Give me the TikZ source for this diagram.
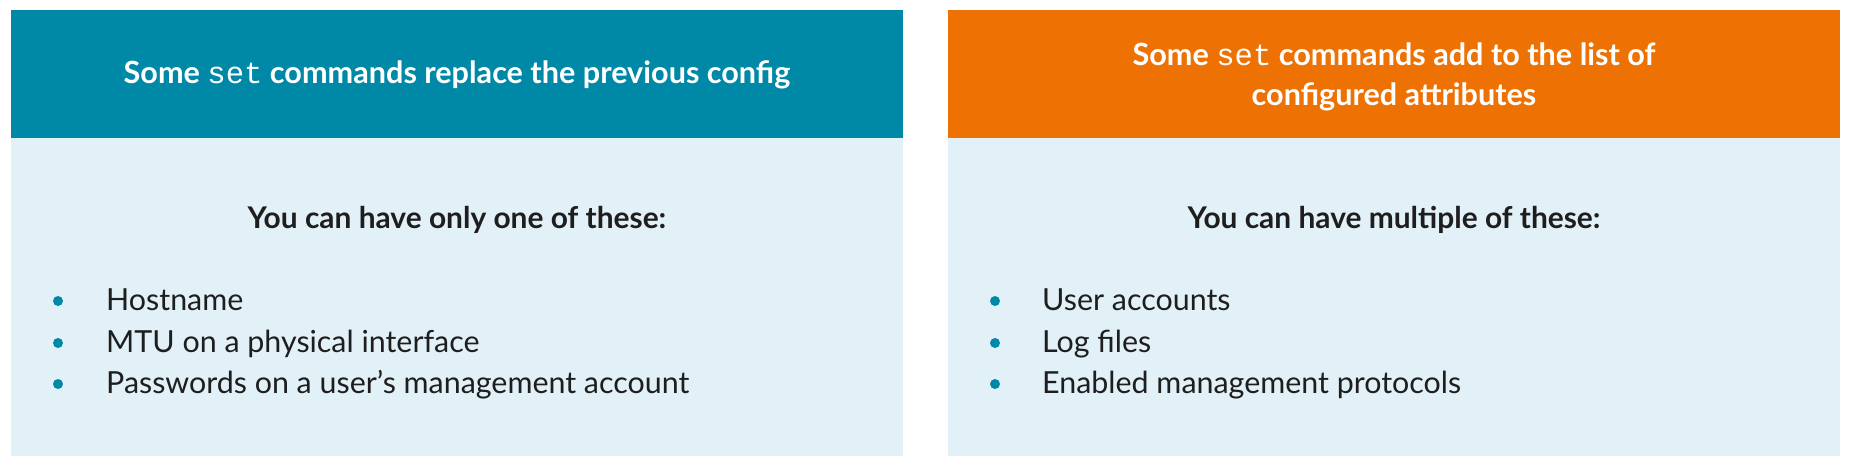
\documentclass[tikz,border=0pt]{standalone}
\usepackage{fontspec}
\setmainfont{Lato}
\newfontfamily\latob{Lato Bold}
\newfontfamily\monof{Liberation Mono}
\definecolor{teal}{RGB}{0,137,167}
\definecolor{orng}{RGB}{238,114,3}
\definecolor{pale}{RGB}{226,240,247}
\definecolor{ink}{RGB}{30,30,30}
\begin{document}
\begin{tikzpicture}[x=1pt,y=-1pt,
  hdr/.style={text=white,font=\latob\fontsize{30.6}{40}\selectfont,align=center,inner sep=0pt},
  sub/.style={text=ink,font=\latob\fontsize{29.9}{36}\selectfont,inner sep=0pt,anchor=base},
  item/.style={text=ink,font=\fontsize{30.4}{36}\selectfont,inner sep=0pt,anchor=base west},
  dot/.style={circle,fill=teal,minimum size=10pt,inner sep=0pt}]
\useasboundingbox (0,0) rectangle (1850,466);
% left panel
\fill[teal] (11,10) rectangle (903,138);
\fill[pale] (11,138) rectangle (903,456);
% right panel
\fill[orng] (948,10) rectangle (1840,138);
\fill[pale] (948,138) rectangle (1840,456);
% headers
\node[hdr,anchor=base] (h1) at (457,83) {Some {\monof set} commands replace the previous config};
\node[hdr,anchor=base] (h2a) at (1394,65) {Some {\monof set} commands add to the list of};
\node[hdr,anchor=base] (h2b) at (1394,105) {configured attributes};
% subtitles
\node[sub] (s1) at (457,228) {You can have only one of these:};
\node[sub] (s2) at (1394,228) {You can have multiple of these:};
% left bullets
\node[dot] (b1) at (58,301) {};
\node[dot] (b2) at (58,343) {};
\node[dot] (b3) at (58,384) {};
\node[item] (t1) at (106,310) {Hostname};
\node[item] (t2) at (106,352) {MTU on a physical interface};
\node[item] (t3) at (106,393) {Passwords on a user’s management account};
% right bullets
\node[dot] (c1) at (995,301) {};
\node[dot] (c2) at (995,343) {};
\node[dot] (c3) at (995,384) {};
\node[item] (u1) at (1042,310) {User accounts};
\node[item] (u2) at (1042,352) {Log files};
\node[item] (u3) at (1042,393) {Enabled management protocols};
\end{tikzpicture}
\end{document}
